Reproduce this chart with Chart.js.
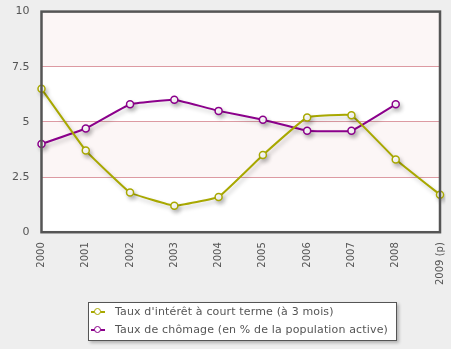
<!DOCTYPE html>
<html lang="fr">
<head>
<meta charset="UTF-8">
<title>Taux</title>
<script src="https://cdn.jsdelivr.net/npm/chart.js"></script>
<style>
  body { margin: 0; background: #eeeeee; font-family: "DejaVu Sans", Verdana, sans-serif; }
  #wrap { position: relative; width: 451px; height: 349px; overflow: hidden; }
  #graphique { position: absolute; left: 0; top: -7px; }
  #legende {
    position: absolute; left: 88px; top: 302px; width: 307px; height: 37px;
    background: #ffffff; border: 1px solid #555; box-shadow: 2px 2px 3px rgba(0,0,0,0.25);
    font-size: 11px; color: #555; letter-spacing: 0.15px;
  }
  .item { position: absolute; left: 2px; height: 14px; line-height: 14px; white-space: nowrap; }
  .mk { display: inline-block; position: relative; width: 14px; height: 14px; vertical-align: top; margin-right: 10px; }
  .mk i { position: absolute; left: 0; top: 6px; width: 14px; height: 2px; }
  .mk b { position: absolute; left: 3px; top: 3px; width: 5px; height: 5px; border-radius: 50%; background: #fff; border: 1.5px solid; }
</style>
</head>
<body>
<div id="wrap">
  <canvas id="graphique" width="454" height="356"></canvas>
  <div id="legende">
    <div class="item" style="top:2px"><span class="mk"><i style="background:#a8a800"></i><b style="border-color:#a8a800"></b></span><span id="l0"></span></div>
    <div class="item" style="top:20px"><span class="mk"><i style="background:#8b008b"></i><b style="border-color:#8b008b"></b></span><span id="l1"></span></div>
  </div>
</div>
<script>
// donnees
const annees = ['2000', '2001', '2002', '2003', '2004', '2005', '2006', '2007', '2008', '2009 (p)'];
const tauxInteret = [6.5, 3.7, 1.8, 1.2, 1.6, 3.5, 5.2, 5.3, 3.3, 1.7];
const tauxChomage = [4.0, 4.7, 5.8, 6.0, 5.5, 5.1, 4.6, 4.6, 5.8, null];
const nomsSeries = ["Taux d'intérêt à court terme (à 3 mois)", "Taux de chômage (en % de la population active)"];
const couleurs = ['#a8a800', '#8b008b'];
const ticksY = [0, 2.5, 5, 7.5, 10];

document.getElementById('l0').textContent = nomsSeries[0];
document.getElementById('l1').textContent = nomsSeries[1];

// bandes roses + cadre
const fondBandes = {
  id: 'fondBandes',
  beforeDraw(chart) {
    const { ctx, chartArea: a, scales: { y } } = chart;
    ctx.save();
    ctx.fillStyle = '#ffffff';
    ctx.fillRect(a.left, a.top, a.right - a.left, a.bottom - a.top);
    ctx.fillStyle = '#fcf6f6';
    for (let i = 1; i < ticksY.length - 1; i += 2) {
      const y1 = y.getPixelForValue(ticksY[i + 1]);
      const y0 = y.getPixelForValue(ticksY[i]);
      ctx.fillRect(a.left, y1, a.right - a.left, y0 - y1);
    }
    ctx.restore();
  },
  afterDraw(chart) {
    const { ctx, chartArea: a } = chart;
    ctx.save();
    ctx.strokeStyle = '#555555';
    ctx.lineWidth = 2.5;
    ctx.strokeRect(a.left, a.top, a.right - a.left, a.bottom - a.top);
    ctx.restore();
  }
};

const ombre = {
  id: 'ombre',
  beforeDatasetsDraw(chart) {
    const ctx = chart.ctx;
    ctx.save();
    ctx.shadowColor = 'rgba(0,0,0,0.22)';
    ctx.shadowBlur = 4;
    ctx.shadowOffsetX = 2;
    ctx.shadowOffsetY = 3;
  },
  afterDatasetsDraw(chart) {
    chart.ctx.restore();
  }
};

function serie(i, data) {
  return {
    label: nomsSeries[i],
    data: data,
    borderColor: couleurs[i],
    backgroundColor: '#ffffff',
    borderWidth: 2,
    pointRadius: 3.5,
    pointBorderWidth: 1.5,
    pointBackgroundColor: '#ffffff',
    pointBorderColor: couleurs[i],
    tension: 0.08,
    spanGaps: false
  };
}

new Chart(document.getElementById('graphique'), {
  type: 'line',
  data: {
    labels: annees,
    datasets: [serie(0, tauxInteret), serie(1, tauxChomage)]
  },
  plugins: [fondBandes, ombre],
  options: {
    responsive: false,
    animation: false,
    layout: { padding: { top: 0, right: 2, bottom: 62, left: 0 } },
    plugins: { legend: { display: false }, tooltip: { enabled: false } },
    scales: {
      x: {
        offset: false,
        grid: { display: false },
        border: { display: false },
        ticks: { color: '#555', font: { family: 'DejaVu Sans', size: 10 }, minRotation: 90, maxRotation: 90, padding: 2 }
      },
      y: {
        min: 0, max: 10,
        afterBuildTicks(axis) { axis.ticks = ticksY.map(v => ({ value: v })); },
        grid: { color: '#dc9aa2', lineWidth: 1, drawTicks: false },
        border: { display: false },
        ticks: { color: '#555', font: { family: 'DejaVu Sans', size: 11 }, padding: 12 }
      }
    }
  }
});
</script>
</body>
</html>
